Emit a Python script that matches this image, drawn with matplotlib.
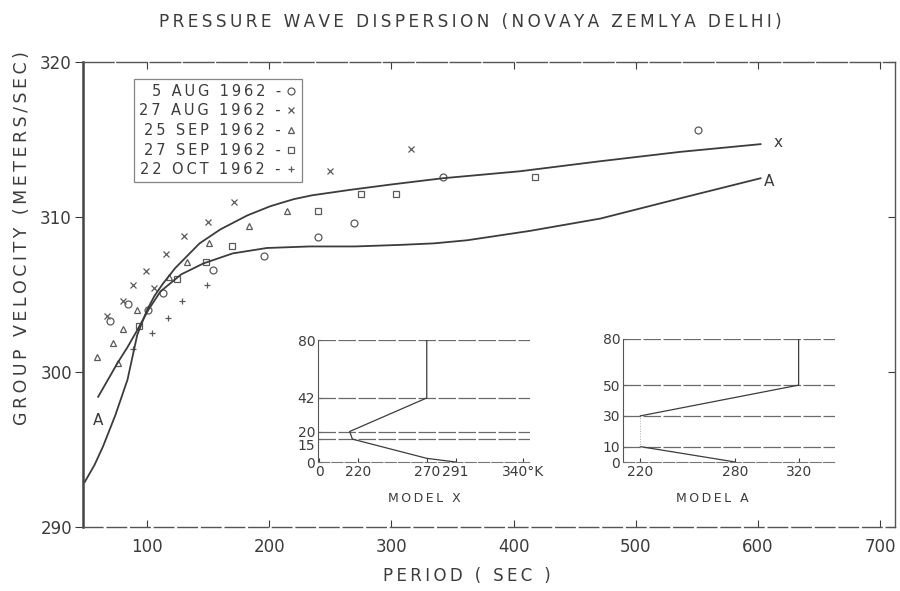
import matplotlib
matplotlib.use("Agg")
import matplotlib.pyplot as plt

# ---------------- data ----------------
aug05_period = [69.7, 84.4, 100.8, 113.1, 154.0, 195.7, 239.9, 269.4, 342.2, 550.9]
aug05_vel    = [303.3, 304.4, 304.0, 305.1, 306.6, 307.5, 308.7, 309.6, 312.6, 315.6]

aug27_period = [67.2, 80.3, 88.5, 99.2, 105.7, 115.5, 130.3, 149.9, 171.2, 249.7, 316.0]
aug27_vel    = [303.6, 304.6, 305.6, 306.5, 305.4, 307.6, 308.8, 309.7, 311.0, 313.0, 314.4]

sep25_period = [59.1, 72.1, 76.2, 80.3, 91.8, 118.0, 132.7, 150.7, 183.4, 214.5]
sep25_vel    = [301.0, 301.9, 300.6, 302.8, 304.0, 306.1, 307.1, 308.3, 309.4, 310.4]

sep27_period = [93.4, 124.5, 148.3, 169.5, 239.9, 275.1, 303.7, 417.5]
sep27_vel    = [303.0, 306.0, 307.1, 308.1, 310.4, 311.5, 311.5, 312.6]

oct22_period = [88.5, 104.1, 117.2, 128.6, 149.1]
oct22_vel    = [301.5, 302.5, 303.5, 304.6, 305.6]

modelx_period = [49, 57, 64, 74, 84, 92, 100, 106, 113, 123, 133, 143, 160, 182, 201,
                 220, 235, 266, 300, 342, 405, 471, 536, 602]
modelx_vel    = [292.9, 294.0, 295.2, 297.2, 299.5, 302.4, 304.0, 304.9, 305.7, 306.7,
                 307.5, 308.3, 309.2, 310.1, 310.7, 311.15, 311.4, 311.75, 312.1,
                 312.5, 312.95, 313.6, 314.2, 314.7]

modela_period = [60, 68, 76, 84, 92, 101, 111, 128, 146, 170, 198, 233, 270, 307, 335,
                 362, 413, 471, 536, 602]
modela_vel    = [298.4, 299.5, 300.6, 301.6, 302.7, 304.0, 305.2, 306.3, 307.0, 307.65,
                 308.0, 308.1, 308.1, 308.2, 308.3, 308.5, 309.1, 309.9, 311.2, 312.5]

legend_labels = ["5 AUG 1962 -", "27 AUG 1962 -", "25 SEP 1962 -",
                 "27 SEP 1962 -", "22 OCT 1962 -"]

x_ticks = [100, 200, 300, 400, 500, 600, 700]
y_ticks = [290, 300, 310, 320]

# inset profiles (temperature K vs height km)
mx_temp   = [291, 270, 216, 214, 270, 270]
mx_height = [0, 2.4, 15, 20, 42, 80]
mx_levels = [15, 20, 42, 80]
mx_yticks = [0, 15, 20, 42, 80]
mx_xticks = [192, 220, 270, 291, 340]
mx_xlabels = ["0", "220", "270", "291", "340°K"]

ma_temp   = [280, 220]
ma_height = [0, 10]
ma_temp2  = [220, 320, 320]
ma_height2 = [30, 50, 80]
ma_levels = [10, 30, 50, 80]
ma_yticks = [0, 10, 30, 50, 80]
ma_xticks = [220, 280, 320]

# ---------------- styling ----------------
INK = "#3c3c3c"
MK = "#5a5a5a"
plt.rcParams["font.family"] = ["DejaVu Sans"]
TS = "\u2009"


def spaced(s):
    return TS.join(s)


fig = plt.figure(figsize=(9, 5.91), dpi=100)
ax = fig.add_axes([83 / 900, 1 - 527 / 591, 812 / 900, 465 / 591])

ax.set_xlim(47.6, 712)
ax.set_ylim(290, 320)

mk = dict(linestyle="none", markerfacecolor="none", markeredgecolor=MK,
          markeredgewidth=0.9, color=MK)
h1, = ax.plot(aug05_period, aug05_vel, marker="o", markersize=5, **mk)
h2, = ax.plot(aug27_period, aug27_vel, marker="x", markersize=4, **mk)
h3, = ax.plot(sep25_period, sep25_vel, marker="^", markersize=5, **mk)
h4, = ax.plot(sep27_period, sep27_vel, marker="s", markersize=4.5, **mk)
h5, = ax.plot(oct22_period, oct22_vel, marker="+", markersize=5, **mk)

ax.plot(modelx_period, modelx_vel, color=INK, lw=1.3)
ax.plot(modela_period, modela_vel, color=INK, lw=1.3)

ax.text(59.8, 296.9, "A", color=INK, fontsize=11, ha="center", va="center")
ax.text(609, 312.3, "A", color=INK, fontsize=11, ha="center", va="center")
ax.text(616, 314.8, "x", color=INK, fontsize=11, ha="center", va="center")

leg = ax.legend([h1, h2, h3, h4, h5], [spaced(s) for s in legend_labels],
                markerfirst=False, loc="upper left", bbox_to_anchor=(0.054, 0.98),
                fontsize=10.5, frameon=True, fancybox=False, handlelength=0.8,
                handletextpad=0.3, borderpad=0.35, labelspacing=0.32,
                labelcolor=INK, alignment="right")
leg.get_frame().set_edgecolor("#666666")
leg.get_frame().set_linewidth(0.9)
for t in leg.get_texts():
    t.set_ha("right")
leg._legend_box.align = "right"

ax.set_xticks(x_ticks)
ax.set_yticks(y_ticks)
ax.tick_params(axis="x", direction="in", top=True, length=5, labelsize=12,
               colors=INK, pad=8)
ax.tick_params(axis="y", direction="out", length=6, labelsize=12, colors=INK, pad=2)
sec = ax.secondary_yaxis("right")
sec.set_yticks(y_ticks)
sec.tick_params(direction="in", length=5, labelright=False, colors=INK)
sec.spines["right"].set_visible(False)
for s in ["top", "right", "bottom"]:
    ax.spines[s].set_color("#555555")
    ax.spines[s].set_linewidth(1.0)
ax.spines["bottom"].set_linestyle((0, (14, 3)))
ax.spines["top"].set_linestyle((0, (22, 2)))
ax.spines["left"].set_color("#444444")
ax.spines["left"].set_linewidth(1.8)

fig.text(470 / 900, 1 - 22 / 591,
         spaced("PRESSURE WAVE DISPERSION (NOVAYA ZEMLYA DELHI)"),
         ha="center", va="center", fontsize=12.2, color=INK)
fig.text(22 / 900, 1 - 238 / 591, spaced("GROUP VELOCITY (METERS/SEC)"), rotation=90,
         ha="center", va="center", fontsize=12.5, color=INK)
fig.text(467 / 900, 1 - 576 / 591, spaced("PERIOD ( SEC )"), ha="center", va="center",
         fontsize=12, color=INK)


# ---------------- insets ----------------
def style_inset(a):
    a.spines["top"].set_visible(False)
    a.spines["right"].set_visible(False)
    a.spines["left"].set_color("#555555")
    a.spines["bottom"].set_color("#777777")
    a.spines["bottom"].set_linestyle((0, (10, 2)))
    a.tick_params(direction="in", length=3, labelsize=10, colors=INK, pad=2)
    a.patch.set_alpha(0)


axx = fig.add_axes([318 / 900, 1 - 462 / 591, 212 / 900, 122 / 591])
axx.set_xlim(191, 345)
axx.set_ylim(0, 80)
for lv in mx_levels:
    axx.axhline(lv, color="#6a6a6a", lw=0.9, ls=(0, (14, 2)))
axx.plot(mx_temp, mx_height, color=INK, lw=0.9)
axx.set_xticks(mx_xticks, mx_xlabels)
axx.set_yticks(mx_yticks)
style_inset(axx)
for lab in axx.get_yticklabels():
    if lab.get_text() == "15":
        lab.set_va("top")
fig.text(424 / 900, 1 - 498 / 591, spaced("MODEL X"), ha="center", va="center",
         fontsize=9, color=INK)

axa = fig.add_axes([623 / 900, 1 - 462 / 591, 212 / 900, 123 / 591])
axa.set_xlim(209, 343)
axa.set_ylim(0, 80)
for lv in ma_levels:
    axa.axhline(lv, color="#6a6a6a", lw=0.9, ls=(0, (14, 2)))
axa.plot(ma_temp, ma_height, color=INK, lw=0.9)
axa.plot(ma_temp2, ma_height2, color=INK, lw=0.9)
axa.plot([ma_temp[1], ma_temp2[0]], [ma_height[1], ma_height2[0]],
         color="#aaaaaa", lw=0.7, ls=":")
axa.set_xticks(ma_xticks)
axa.set_yticks(ma_yticks)
style_inset(axa)
fig.text(712 / 900, 1 - 498 / 591, spaced("MODEL A"), ha="center", va="center",
         fontsize=9, color=INK)

fig.savefig("out.png", dpi=100)
